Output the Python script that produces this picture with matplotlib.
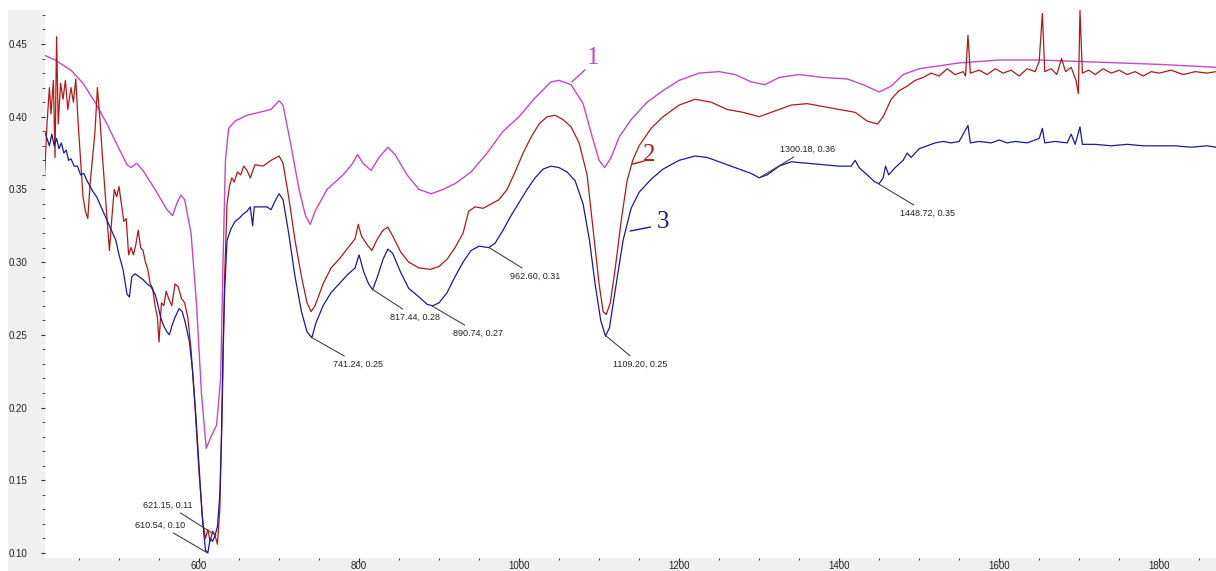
import matplotlib
matplotlib.use('Agg')
import matplotlib.pyplot as plt
from matplotlib.patches import Rectangle

# curve 1 (magenta)
x1 = [404, 420, 440, 455, 470, 485, 500, 510, 515, 522, 530, 545, 560, 567, 572, 577, 582, 590, 597, 603,
      609, 615, 622, 627, 630, 633, 637, 645, 660, 675, 690, 700, 705, 715, 725, 733, 739, 745, 760, 780,
      792, 798, 805, 815, 825, 836, 845, 860, 875, 890, 905, 920, 940, 960, 980, 1000, 1020, 1040, 1050, 1065,
      1080, 1092, 1100, 1107, 1115, 1125, 1140, 1160, 1180, 1200, 1225, 1250, 1270, 1290, 1307, 1325, 1350, 1380, 1410, 1430,
      1450, 1465, 1480, 1500, 1550, 1600, 1650, 1700, 1750, 1800, 1871]
y1 = [0.443, 0.439, 0.432, 0.423, 0.410, 0.395, 0.378, 0.367, 0.365, 0.368, 0.363, 0.350, 0.336, 0.332, 0.340, 0.346, 0.343, 0.320, 0.270, 0.210,
      0.172, 0.180, 0.188, 0.220, 0.300, 0.370, 0.392, 0.397, 0.401, 0.403, 0.405, 0.411, 0.408, 0.380, 0.350, 0.332, 0.326, 0.335, 0.350, 0.360,
      0.368, 0.374, 0.368, 0.363, 0.372, 0.379, 0.374, 0.360, 0.350, 0.347, 0.350, 0.354, 0.362, 0.375, 0.390, 0.400, 0.413, 0.424, 0.425, 0.422,
      0.409, 0.385, 0.370, 0.365, 0.372, 0.386, 0.398, 0.410, 0.418, 0.425, 0.430, 0.431, 0.429, 0.424, 0.422, 0.427, 0.429, 0.427, 0.426, 0.422,
      0.417, 0.421, 0.429, 0.433, 0.437, 0.439, 0.439, 0.438, 0.437, 0.436, 0.434]

# curve 2 (red)
x2 = [404, 407, 410, 413, 415, 418, 420, 422, 424, 427, 430, 433, 436, 440, 443, 446, 449, 452, 455, 458,
      461, 464, 467, 470, 473, 476, 479, 482, 485, 488, 491, 494, 497, 500, 503, 506, 509, 512, 515, 518,
      521, 524, 527, 530, 533, 536, 539, 542, 545, 548, 550, 553, 556, 559, 562, 566, 570, 574, 578, 582,
      586, 590, 595, 600, 605, 608, 611, 614, 617, 620, 623, 626, 629, 632, 635, 638, 641, 644, 648, 652,
      656, 660, 664, 670, 680, 690, 700, 705, 712, 720, 728, 735, 740, 745, 755, 765, 775, 785, 795, 799,
      803, 810, 816, 822, 830, 836, 842, 852, 862, 875, 889, 900, 910, 920, 930, 937, 945, 955, 965, 975,
      985, 995, 1005, 1015, 1025, 1035, 1045, 1055, 1065, 1075, 1085, 1093, 1100, 1105, 1109, 1114, 1120, 1128, 1135, 1142,
      1150, 1165, 1180, 1200, 1220, 1240, 1260, 1280, 1300, 1320, 1340, 1360, 1380, 1400, 1420, 1435, 1448, 1455, 1465, 1475,
      1485, 1495, 1505, 1515, 1525, 1535, 1545, 1555, 1558, 1561, 1564, 1575, 1585, 1595, 1605, 1615, 1625, 1635, 1645, 1650,
      1654, 1657, 1665, 1672, 1678, 1683, 1690, 1696, 1699, 1701, 1704, 1712, 1720, 1730, 1740, 1750, 1760, 1770, 1780, 1790,
      1800, 1815, 1830, 1845, 1860, 1871]
y2 = [0.330, 0.360, 0.395, 0.420, 0.402, 0.425, 0.372, 0.455, 0.395, 0.423, 0.412, 0.425, 0.405, 0.420, 0.410, 0.426, 0.395, 0.370, 0.345, 0.335,
      0.330, 0.355, 0.372, 0.390, 0.420, 0.400, 0.375, 0.352, 0.330, 0.308, 0.330, 0.350, 0.345, 0.352, 0.340, 0.328, 0.330, 0.305, 0.310, 0.305,
      0.312, 0.322, 0.310, 0.308, 0.300, 0.295, 0.285, 0.282, 0.270, 0.262, 0.245, 0.272, 0.270, 0.280, 0.275, 0.270, 0.285, 0.283, 0.275, 0.272,
      0.262, 0.240, 0.200, 0.155, 0.120, 0.110, 0.116, 0.108, 0.115, 0.112, 0.106, 0.130, 0.200, 0.290, 0.340, 0.352, 0.358, 0.355, 0.362, 0.360,
      0.366, 0.363, 0.358, 0.367, 0.366, 0.370, 0.373, 0.368, 0.345, 0.315, 0.290, 0.272, 0.266, 0.270, 0.285, 0.296, 0.302, 0.309, 0.316, 0.326,
      0.318, 0.312, 0.308, 0.315, 0.322, 0.324, 0.318, 0.307, 0.300, 0.296, 0.295, 0.297, 0.302, 0.310, 0.320, 0.335, 0.338, 0.337, 0.340, 0.343,
      0.350, 0.362, 0.375, 0.386, 0.395, 0.400, 0.401, 0.398, 0.393, 0.382, 0.360, 0.320, 0.285, 0.266, 0.264, 0.272, 0.295, 0.330, 0.356, 0.370,
      0.380, 0.392, 0.400, 0.408, 0.412, 0.410, 0.405, 0.403, 0.400, 0.404, 0.408, 0.409, 0.407, 0.405, 0.403, 0.397, 0.395, 0.400, 0.412, 0.418,
      0.421, 0.425, 0.427, 0.430, 0.428, 0.433, 0.429, 0.431, 0.428, 0.456, 0.430, 0.432, 0.429, 0.433, 0.430, 0.432, 0.428, 0.433, 0.431, 0.438,
      0.471, 0.431, 0.433, 0.429, 0.440, 0.431, 0.434, 0.425, 0.416, 0.473, 0.430, 0.432, 0.429, 0.433, 0.430, 0.432, 0.429, 0.431, 0.428, 0.431,
      0.430, 0.432, 0.429, 0.431, 0.430, 0.431]

# curve 3 (blue)
x3 = [404, 407, 410, 413, 416, 419, 422, 425, 428, 431, 434, 437, 440, 444, 448, 452, 456, 460, 464, 468,
      472, 476, 480, 484, 488, 492, 496, 500, 505, 510, 513, 516, 520, 525, 530, 535, 540, 545, 548, 552,
      556, 560, 563, 566, 570, 575, 579, 583, 588, 592, 596, 600, 604, 608, 611, 614, 617, 620, 623, 626,
      628, 630, 632, 635, 640, 645, 650, 655, 660, 664, 667, 669, 675, 685, 690, 695, 700, 705, 712, 720,
      728, 735, 741, 746, 755, 765, 775, 785, 795, 800, 806, 812, 817, 823, 830, 836, 842, 852, 862, 875,
      885, 892, 900, 910, 920, 930, 940, 950, 962, 970, 980, 990, 1000, 1010, 1020, 1030, 1040, 1050, 1060, 1070,
      1080, 1088, 1095, 1102, 1108, 1113, 1120, 1130, 1140, 1150, 1165, 1180, 1200, 1220, 1235, 1250, 1270, 1290, 1300, 1310,
      1325, 1340, 1360, 1380, 1400, 1415, 1420, 1425, 1435, 1445, 1450, 1455, 1458, 1462, 1470, 1480, 1485, 1490, 1500, 1510,
      1520, 1530, 1540, 1550, 1561, 1564, 1575, 1590, 1600, 1610, 1620, 1635, 1650, 1654, 1657, 1670, 1685, 1690, 1695, 1701,
      1704, 1720, 1740, 1760, 1780, 1800, 1820, 1840, 1860, 1871]
y3 = [0.385, 0.390, 0.385, 0.380, 0.388, 0.380, 0.385, 0.378, 0.382, 0.375, 0.377, 0.370, 0.371, 0.366, 0.366, 0.360, 0.361, 0.356, 0.352, 0.348,
      0.345, 0.340, 0.335, 0.330, 0.325, 0.320, 0.315, 0.305, 0.295, 0.278, 0.276, 0.290, 0.292, 0.290, 0.288, 0.285, 0.283, 0.278, 0.272, 0.262,
      0.256, 0.252, 0.250, 0.256, 0.262, 0.268, 0.266, 0.258, 0.245, 0.225, 0.195, 0.160, 0.125, 0.102, 0.100, 0.110, 0.108, 0.112, 0.118, 0.140,
      0.180, 0.240, 0.280, 0.315, 0.323, 0.328, 0.330, 0.333, 0.335, 0.338, 0.325, 0.338, 0.338, 0.338, 0.336, 0.342, 0.347, 0.343, 0.320, 0.290,
      0.266, 0.252, 0.248, 0.258, 0.270, 0.279, 0.285, 0.291, 0.296, 0.305, 0.293, 0.285, 0.281, 0.290, 0.302, 0.309, 0.306, 0.293, 0.282, 0.276,
      0.271, 0.270, 0.272, 0.279, 0.290, 0.300, 0.308, 0.311, 0.310, 0.313, 0.322, 0.332, 0.341, 0.350, 0.358, 0.364, 0.366, 0.365, 0.362, 0.356,
      0.340, 0.315, 0.285, 0.260, 0.249, 0.255, 0.280, 0.315, 0.337, 0.348, 0.357, 0.364, 0.370, 0.373, 0.372, 0.369, 0.365, 0.361, 0.358, 0.360,
      0.366, 0.369, 0.368, 0.367, 0.366, 0.366, 0.370, 0.365, 0.360, 0.355, 0.354, 0.358, 0.366, 0.360, 0.365, 0.370, 0.375, 0.372, 0.378, 0.380,
      0.382, 0.383, 0.382, 0.383, 0.394, 0.382, 0.383, 0.382, 0.384, 0.382, 0.383, 0.382, 0.385, 0.392, 0.382, 0.383, 0.382, 0.388, 0.381, 0.393,
      0.381, 0.381, 0.380, 0.381, 0.380, 0.380, 0.380, 0.379, 0.380, 0.379]

# peak labels: point x, point y, text x, text y
peak_labels = ['610.54, 0.10', '621.15, 0.11', '741.24, 0.25', '817.44, 0.28', '890.74, 0.27',
               '962.60, 0.31', '1109.20, 0.25', '1300.18, 0.36', '1448.72, 0.35']
peak_x = [610.54, 621.15, 741.24, 817.44, 890.74, 962.60, 1109.20, 1300.18, 1448.72]
peak_y = [0.100, 0.112, 0.248, 0.281, 0.270, 0.310, 0.249, 0.358, 0.354]
text_x = [551, 561, 799, 870, 949, 1020, 1151, 1360, 1510]
text_y = [0.1192, 0.1330, 0.2300, 0.2622, 0.2512, 0.2904, 0.2300, 0.3778, 0.3338]

curve_names = ['1', '2', '3']
curve_colors = ['#c946c9', '#b41818', '#1a1a9a']

plt.rcParams['font.family'] = ['Liberation Sans Narrow', 'Liberation Sans', 'DejaVu Sans']

W, H = 1216, 571
fig = plt.figure(figsize=(W / 100, H / 100), dpi=100)
fig.patch.set_facecolor('white')
# grey margins behind the tick labels (zorder below the axes)
fig.patches.append(Rectangle((8 / W, 0), 37 / W, 561 / H, transform=fig.transFigure,
                             facecolor='#f0f0f0', edgecolor='none', zorder=-5))
fig.patches.append(Rectangle((8 / W, 0), 1 - 8 / W, 13 / H, transform=fig.transFigure,
                             facecolor='#f0f0f0', edgecolor='none', zorder=-5))

ax = fig.add_axes([45 / W, 13 / H, 1171 / W, 548 / H])
ax.set_facecolor('white')

ax.plot(x1, y1, color=curve_colors[0], lw=1.0)
ax.plot(x2, y2, color=curve_colors[1], lw=0.9)
ax.plot(x3, y3, color=curve_colors[2], lw=0.9)

for lab, px, py, tx, ty in zip(peak_labels, peak_x, peak_y, text_x, text_y):
    ax.annotate(lab, xy=(px, py), xytext=(tx, ty), ha='center', va='center', fontsize=6.5,
                color='#222222',
                arrowprops=dict(arrowstyle='-', color='#444444', lw=0.8, shrinkA=1, shrinkB=0))

# curve numbers with short leader lines
name_x = [1092, 1162, 1180]
name_y = [0.4404, 0.3737, 0.3276]
lead_x = [(1066, 1082), (1142, 1156), (1139, 1164)]
lead_y = [(0.4239, 0.4321), (0.3675, 0.3695), (0.3214, 0.3241)]
for n, c, nx, ny, lx, ly in zip(curve_names, curve_colors, name_x, name_y, lead_x, lead_y):
    ax.text(nx, ny, n, color=c, fontsize=18, family='Liberation Serif', ha='center', va='center')
    ax.plot(lx, ly, color=c, lw=1.0)

ax.set_xlim(407.5, 1871)
ax.set_ylim(0.0965, 0.4734)
ax.set_xticks([600, 800, 1000, 1200, 1400, 1600, 1800])
ax.set_xticks(list(range(450, 1871, 50)), minor=True)
ax.set_yticks([0.10, 0.15, 0.20, 0.25, 0.30, 0.35, 0.40, 0.45])
ax.set_yticks([v / 100 for v in range(10, 48)], minor=True)
ax.set_yticklabels(['%.2f' % v for v in ax.get_yticks()])
ax.tick_params(which='both', direction='out', color='#333333', labelsize=7, labelcolor='#222222')
ax.tick_params(axis='y', which='major', length=3, pad=10)
ax.tick_params(axis='y', which='minor', length=2)
ax.tick_params(axis='x', which='major', length=3, pad=-1)
ax.tick_params(axis='x', which='minor', length=1.5)
for s in ax.spines.values():
    s.set_visible(False)

fig.savefig('out.png', dpi=100, facecolor=fig.get_facecolor())
